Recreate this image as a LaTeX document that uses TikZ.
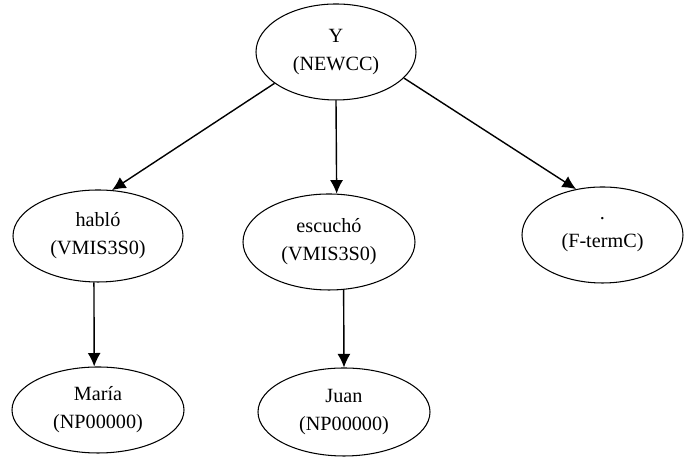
\documentclass[tikz,border=0pt]{standalone}
\usepackage{fontspec}
\setmainfont{Liberation Serif}
\usetikzlibrary{shapes.geometric, arrows.meta}

\begin{document}
\begin{tikzpicture}[
            tag/.style={
                    ellipse,
                    draw=black,
                    line width=0.6pt,
                    fill=white,
                    align=center,
                    font=\fontsize{11.5}{16}\selectfont,
                    minimum height=1.9cm,
                    minimum width=3.4cm,
                    inner sep=0pt
                },
            line/.style={
                    draw,
                    line width=0.8pt,
                    -{Latex[length=2.7mm, width=2.6mm]}
                }
        ]
        \useasboundingbox (0,0) rectangle (13.68,9.28);

        % Nodes
        \node [tag, minimum width=3.2cm, minimum height=1.92cm] (root) at (6.72,8.24) {Y\\(NEWCC)};
        \node [tag, minimum height=1.84cm] (hablo) at (1.96,4.56) {habló\\(VMIS3S0)};
        \node [tag, minimum width=3.44cm, minimum height=1.92cm] (escucho) at (6.58,4.44) {escuchó\\(VMIS3S0)};
        \node [tag, minimum width=3.22cm, minimum height=1.92cm] (punto) at (12.05,4.58) {.\\(F-termC)};
        \node [tag, minimum width=3.44cm, minimum height=1.72cm] (maria) at (1.96,1.08) {María\\(NP00000)};
        \node [tag, minimum width=3.44cm, minimum height=1.76cm] (juan) at (6.88,1.04) {Juan\\(NP00000)};

        % Arrows from the root
        \path [line] (root.207) -- (hablo.73);
        \path [line] (root.south) -- (escucho.81);
        \path [line] (root.339) -- (punto.120);

        % Arrows to the leaves
        \path [line] (hablo.265) -- (maria.95);
        \path [line] (escucho.287) -- (juan.90);
    \end{tikzpicture}
\end{document}
